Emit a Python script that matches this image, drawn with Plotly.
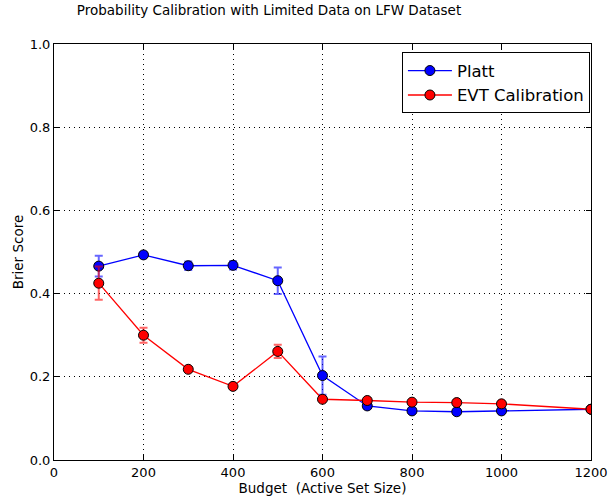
import plotly.graph_objects as go

FONT = "DejaVu Sans, sans-serif"

budget = [100, 200, 300, 400, 500, 600, 700, 800, 900, 1000, 1200]
platt = [0.466, 0.493, 0.467, 0.468, 0.431, 0.203, 0.130, 0.118, 0.116, 0.118, 0.122]
platt_err = [0.025, 0.004, 0.010, 0.010, 0.032, 0.046, 0.006, 0.003, 0.003, 0.003, 0.002]
evt = [0.425, 0.300, 0.218, 0.177, 0.261, 0.146, 0.143, 0.139, 0.138, 0.135, 0.122]
evt_err = [0.040, 0.018, 0.005, 0.004, 0.016, 0.005, 0.004, 0.003, 0.003, 0.003, 0.002]

x_ticks = [0, 200, 400, 600, 800, 1000, 1200]
y_ticks = [0.0, 0.2, 0.4, 0.6, 0.8, 1.0]

fig = go.Figure()
fig.add_trace(go.Scatter(
    x=budget, y=platt, name="Platt", mode="lines+markers",
    line=dict(color="#0000ff", width=1.3),
    marker=dict(color="#0000ff", size=10, line=dict(color="black", width=1)),
    error_y=dict(type="data", array=platt_err, color="rgba(0,0,255,0.6)", thickness=2, width=4),
))
fig.add_trace(go.Scatter(
    x=budget, y=evt, name="EVT Calibration", mode="lines+markers",
    line=dict(color="#ff0000", width=1.3),
    marker=dict(color="#ff0000", size=10, line=dict(color="black", width=1)),
    error_y=dict(type="data", array=evt_err, color="rgba(255,0,0,0.6)", thickness=2, width=4),
))

fig.update_layout(
    width=610, height=499,
    margin=dict(l=54, r=19, t=44, b=39, autoexpand=False),
    paper_bgcolor="white", plot_bgcolor="white",
    font=dict(family=FONT, color="black", size=13),
    title=dict(text="Probability Calibration with Limited Data on LFW Dataset",
               xref="container", x=0.441, xanchor="center",
               yref="container", y=0.98, yanchor="middle", font=dict(size=13.5), automargin=False),
    showlegend=True,
    legend=dict(x=0.998, y=0.98, xanchor="right", yanchor="top",
                bordercolor="black", borderwidth=1, bgcolor="white",
                font=dict(size=16.5), itemwidth=44, tracegroupgap=0),
)
grid = dict(showgrid=True, gridcolor="black", griddash="1px,4px", gridwidth=1, zeroline=False,
            ticks="inside", ticklen=5, mirror="allticks", tickcolor="black",
            showline=True, linecolor="black", linewidth=1, automargin=False,
            tickfont=dict(size=13), ticklabeloverflow="allow")
fig.update_xaxes(
    range=[0, 1200], tickvals=x_ticks, **grid,
    title=dict(text="Budget  (Active Set Size)", standoff=0, font=dict(size=13.5)),
)
fig.update_yaxes(
    range=[0, 1.0], tickvals=y_ticks, tickformat=".1f", **grid,
    title=dict(text="Brier Score", standoff=2, font=dict(size=13.5)),
)

# drop the default 8px body margin so the figure fills the window exactly
fig.write_html("out.html", config={"displayModeBar": False},
               post_script="document.body.style.margin='0';document.body.style.overflow='hidden';")
